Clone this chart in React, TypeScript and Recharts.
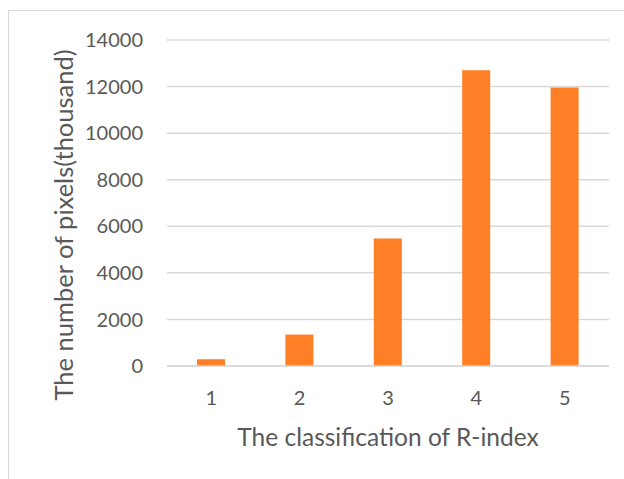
import { FC } from 'react';
import { Bar, BarChart, CartesianGrid, XAxis, YAxis } from 'recharts';

const classes = ['1', '2', '3', '4', '5'];
const pixelCounts = [290, 1350, 5480, 12700, 11960];
const yTicks = [0, 2000, 4000, 6000, 8000, 10000, 12000, 14000];

const data = classes.map((name, i) => ({ name, value: pixelCounts[i] }));

const FONT = 'Lato, "Open Sans", sans-serif';
const TEXT = '#595959';
const GRID = '#D9D9D9';

// rotated y title, nudged below the plot centre
const YTitle: FC<any> = ({ viewBox }) => {
  const cx = viewBox.x - 44;
  const cy = viewBox.y + viewBox.height / 2 + 22;
  return (
    <text
      x={cx}
      y={cy}
      transform={`rotate(-90, ${cx}, ${cy})`}
      textAnchor="middle"
      dominantBaseline="central"
      fill={TEXT}
      fontSize={25.5}
      fontFamily={FONT}
    >
      The number of pixels(thousand)
    </text>
  );
};

const App: FC = () => (
  <div style={{ position: 'absolute', left: 0, top: 0, width: 624, height: 479, background: '#fff' }}>
    <div
      style={{
        position: 'absolute',
        left: 8,
        top: 10,
        right: 0,
        bottom: 0,
        borderLeft: `1px solid ${GRID}`,
        borderTop: `1px solid ${GRID}`,
      }}
    />
    <BarChart
      width={624}
      height={479}
      data={data}
      margin={{ top: 40, right: 15, bottom: 0, left: 107 }}
      barSize={28}
      style={{ position: 'absolute', left: 0, top: 0 }}
    >
      <CartesianGrid vertical={false} stroke={GRID} strokeWidth={1.5} />
      <XAxis
        dataKey="name"
        height={113}
        axisLine={{ stroke: GRID, strokeWidth: 1.5 }}
        tickLine={false}
        tickSize={0}
        tickMargin={25}
        tick={{ fill: TEXT, fontSize: 20, fontFamily: FONT }}
        label={{
          value: 'The classification of R-index',
          position: 'insideBottom',
          offset: 33,
          fill: TEXT,
          fontSize: 24.5,
          fontFamily: FONT,
        }}
      />
      <YAxis
        width={60}
        domain={[0, 14000]}
        ticks={yTicks}
        axisLine={false}
        tickLine={false}
        tickSize={0}
        tickMargin={24}
        tick={{ fill: TEXT, fontSize: 20, fontFamily: FONT }}
        label={<YTitle />}
      />
      <Bar dataKey="value" fill="#FE7F26" isAnimationActive={false} />
    </BarChart>
  </div>
);

export default App;
